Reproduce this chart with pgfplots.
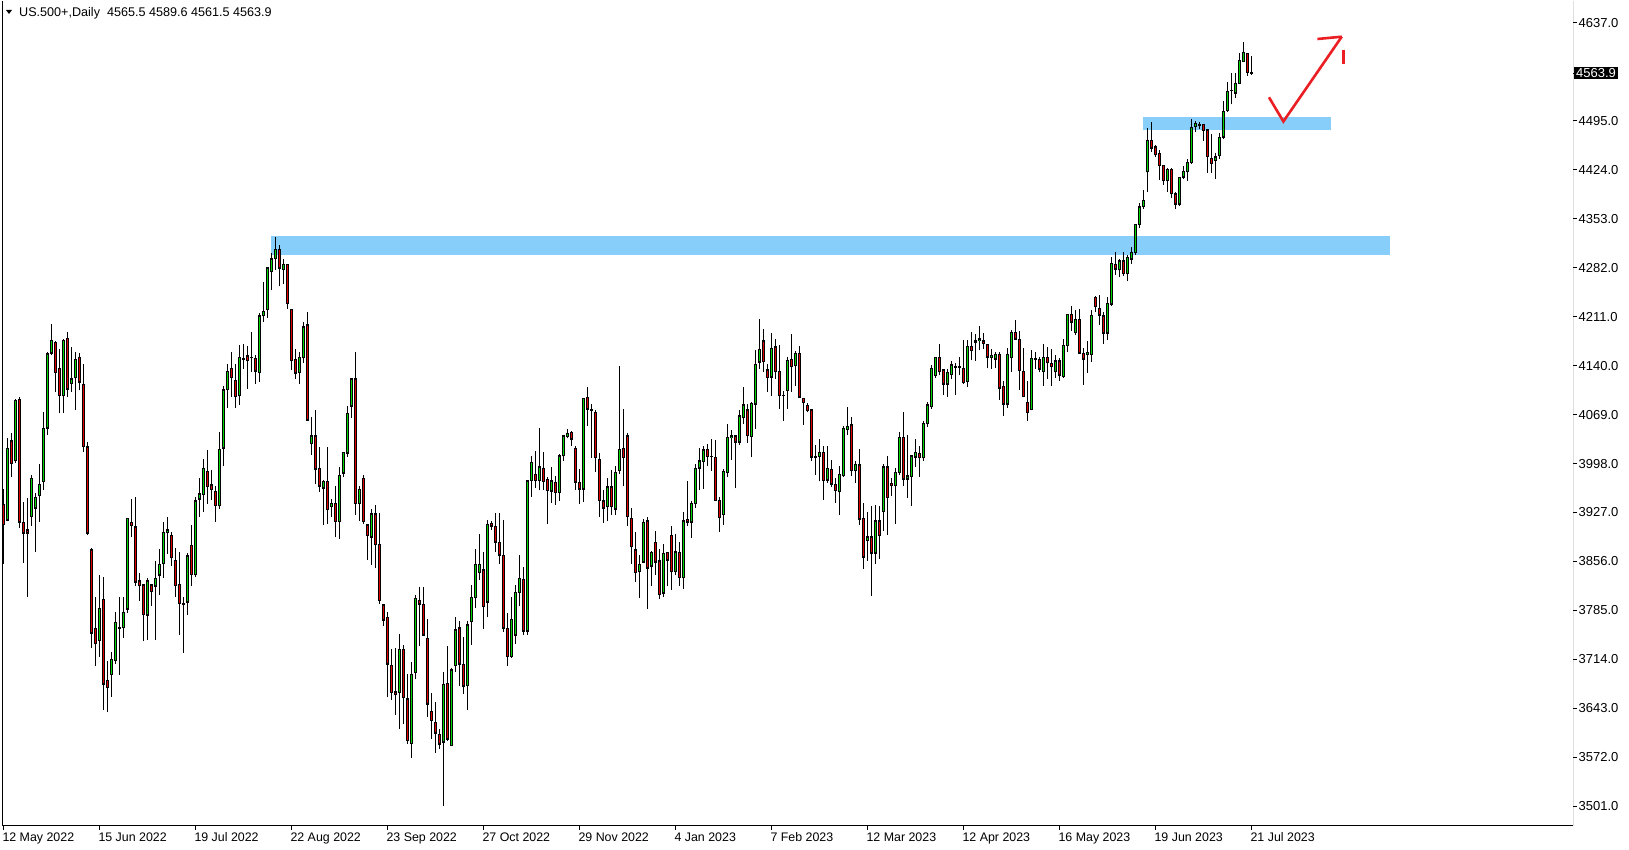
\documentclass[border=0pt]{standalone}
\usepackage{fontspec}
\setmainfont{Liberation Sans}
\usepackage{pgfplots}
\usepackage{pgfplotstable}
\pgfplotsset{compat=1.18}
\definecolor{bull}{RGB}{0,215,0}
\definecolor{bear}{RGB}{225,0,0}
\definecolor{zone}{RGB}{135,206,250}
\definecolor{arrowred}{RGB}{235,30,35}

\pgfplotstableread{
i o h l c
0 3939 3961 3853 3909
1 3916 4035 3914 4020
2 4031 4042 3978 3998
3 4002 4091 3999 4090
4 4091 4094 3904 3913
5 3913 3942 3854 3897
6 3902 3948 3805 3897
7 3921 3981 3907 3977
8 3933 3955 3870 3949
9 3951 3997 3913 3968
10 3972 4073 3959 4049
11 4049 4159 4040 4157
12 4158 4201 4156 4177
13 4174 4176 4101 4130
14 4136 4164 4071 4096
15 4096 4178 4071 4177
16 4180 4188 4095 4106
17 4114 4167 4102 4121
18 4122 4159 4075 4149
19 4152 4158 4104 4116
20 4113 4143 4014 4022
21 4022 4029 3894 3897
22 3873 3875 3731 3752
23 3759 3804 3704 3737
24 3741 3837 3718 3788
25 3801 3833 3641 3678
26 3684 3712 3637 3673
27 3692 3724 3660 3714
28 3712 3782 3708 3768
29 3759 3805 3692 3760
30 3760 3805 3745 3782
31 3787 3919 3781 3919
32 3913 3946 3891 3908
33 3906 3949 3820 3826
34 3828 3839 3799 3821
35 3822 3823 3740 3779
36 3778 3832 3742 3828
37 3822 3824 3792 3812
38 3820 3856 3742 3832
39 3836 3874 3807 3852
40 3853 3913 3832 3898
41 3898 3921 3867 3902
42 3894 3899 3850 3861
43 3858 3875 3804 3821
44 3823 3870 3749 3795
45 3795 3804 3723 3793
46 3797 3868 3779 3864
47 3879 3909 3820 3837
48 3837 3949 3833 3944
49 3946 3977 3921 3954
50 3953 4005 3928 3991
51 3987 4017 3940 3964
52 3967 3989 3945 3960
53 3958 3965 3913 3937
54 3937 4043 3932 4019
55 4020 4111 3994 4105
56 4105 4143 4079 4132
57 4136 4160 4095 4122
58 4119 4142 4079 4095
59 4096 4170 4083 4152
60 4149 4172 4135 4151
61 4154 4168 4106 4147
62 4152 4189 4131 4152
63 4151 4156 4114 4132
64 4130 4216 4116 4212
65 4212 4261 4203 4219
66 4221 4282 4209 4282
67 4276 4303 4249 4295
68 4295 4326 4279 4309
69 4309 4315 4255 4281
70 4279 4295 4258 4287
71 4287 4288 4222 4230
72 4222 4222 4133 4147
73 4149 4164 4121 4129
74 4130 4160 4113 4152
75 4151 4203 4144 4196
76 4199 4218 4061 4061
77 4027 4066 4010 4038
78 4038 4075 3968 3990
79 3991 4022 3957 3965
80 3962 3974 3909 3972
81 3972 4022 3911 3931
82 3935 3947 3920 3940
83 3940 3966 3891 3914
84 3914 3993 3889 3981
85 3984 4015 3978 4014
86 4013 4081 4008 4071
87 4081 4122 4064 4121
88 4121 4160 3923 3940
89 3940 3966 3915 3961
90 3977 3982 3910 3914
91 3909 3909 3858 3893
92 3891 3932 3851 3925
93 3925 3938 3846 3880
94 3881 3926 3795 3799
95 3793 3793 3762 3771
96 3775 3783 3659 3707
97 3705 3729 3655 3666
98 3667 3730 3634 3663
99 3666 3751 3613 3729
100 3729 3735 3621 3658
101 3657 3693 3592 3596
102 3592 3710 3571 3692
103 3695 3807 3685 3803
104 3800 3819 3733 3794
105 3794 3819 3748 3749
106 3745 3772 3631 3649
107 3639 3665 3598 3625
108 3623 3652 3578 3607
109 3605 3613 3584 3591
110 3594 3696 3501 3678
111 3679 3734 3596 3598
112 3589 3701 3589 3699
113 3705 3775 3695 3757
114 3760 3770 3675 3707
115 3707 3747 3664 3675
116 3676 3769 3640 3764
117 3769 3822 3735 3804
118 3803 3874 3788 3852
119 3840 3896 3829 3852
120 3844 3870 3758 3790
121 3797 3916 3775 3910
122 3911 3915 3902 3907
123 3907 3926 3870 3884
124 3884 3926 3852 3865
125 3865 3916 3754 3759
126 3759 3781 3704 3718
127 3718 3804 3716 3772
128 3749 3822 3737 3811
129 3811 3865 3791 3832
130 3830 3848 3749 3755
131 3755 3973 3750 3973
132 3973 4009 3950 4000
133 3982 4016 3963 3973
134 3973 4049 3959 3993
135 3991 4014 3960 3972
136 3975 3979 3910 3959
137 3958 3993 3941 3973
138 3971 3980 3938 3956
139 3956 4012 3943 4009
140 4009 4040 4001 4038
141 4037 4048 4035 4042
142 4043 4045 4024 4033
143 4020 4023 3959 3971
144 3971 3990 3940 3961
145 3961 4093 3942 4093
146 4094 4109 4053 4077
147 4077 4084 4006 4075
148 4072 4076 3986 4006
149 4004 4013 3920 3944
150 3944 3960 3912 3933
151 3935 3977 3914 3964
152 3964 3989 3923 3935
153 3932 3994 3923 3985
154 3988 4139 3983 4019
155 4020 4077 3965 4006
156 4038 4042 3907 3921
157 3919 3934 3853 3877
158 3873 3899 3826 3840
159 3841 3866 3803 3852
160 3855 3918 3854 3913
161 3915 3920 3787 3846
162 3849 3871 3820 3869
163 3884 3900 3836 3855
164 3857 3874 3802 3808
165 3810 3881 3805 3868
166 3869 3870 3820 3858
167 3894 3907 3814 3841
168 3841 3896 3836 3870
169 3869 3884 3821 3832
170 3832 3927 3816 3915
171 3917 3973 3908 3913
172 3913 3944 3890 3940
173 3940 3997 3933 3991
174 3991 4020 3960 4002
175 4001 4024 3961 4018
176 4019 4026 3995 4008
177 4008 4033 3987 4008
178 4007 4032 3943 3944
179 3945 3949 3899 3919
180 3924 3990 3909 3987
181 3985 4055 3979 4036
182 4035 4047 4003 4038
183 4038 4040 3962 4029
184 4029 4076 4025 4067
185 4064 4109 4056 4083
186 4076 4084 4028 4038
187 4037 4087 4007 4085
188 4084 4163 4048 4142
189 4145 4208 4135 4164
190 4176 4193 4131 4146
191 4134 4142 4102 4122
192 4123 4187 4096 4165
193 4167 4179 4121 4131
194 4132 4170 4077 4096
195 4097 4103 4059 4097
196 4104 4152 4077 4148
197 4149 4186 4102 4138
198 4140 4161 4111 4158
199 4158 4168 4093 4094
200 4093 4093 4054 4086
201 4082 4086 4072 4075
202 4076 4077 4001 4007
203 4008 4025 3981 4006
204 4008 4033 3972 4014
205 4014 4023 3945 3973
206 3974 4023 3970 3991
207 3990 4003 3964 3968
208 3968 3977 3941 3959
209 3957 3995 3924 3982
210 3980 4053 3979 4049
211 4047 4080 4039 4052
212 4054 4065 3980 3988
213 3988 4002 3970 3997
214 3996 4019 3909 3917
215 3919 3941 3845 3862
216 3886 3927 3857 3892
217 3892 3937 3806 3868
218 3868 3938 3852 3915
219 3915 3937 3860 3893
220 3928 3998 3900 3993
221 3993 4009 3895 3948
222 3969 3977 3951 3966
223 3966 3991 3910 3985
224 3985 4043 3981 4036
225 4036 4072 3965 3975
226 3975 4039 3948 3980
227 3979 4011 3936 4009
228 4007 4033 3993 4014
229 4013 4024 3979 4006
230 4006 4059 4002 4056
231 4056 4087 4051 4083
232 4080 4141 4077 4136
233 4125 4153 4122 4152
234 4152 4171 4126 4131
235 4134 4135 4097 4113
236 4113 4135 4095 4130
237 4127 4146 4120 4141
238 4137 4144 4097 4138
239 4138 4152 4126 4137
240 4136 4177 4114 4115
241 4117 4177 4109 4168
242 4168 4188 4148 4162
243 4174 4186 4147 4176
244 4176 4197 4162 4179
245 4176 4187 4164 4172
246 4171 4172 4136 4152
247 4152 4164 4135 4155
248 4149 4159 4137 4156
249 4156 4159 4090 4107
250 4110 4117 4067 4084
251 4084 4166 4079 4156
252 4151 4192 4130 4188
253 4188 4206 4177 4178
254 4178 4190 4104 4133
255 4132 4166 4094 4095
256 4087 4118 4060 4072
257 4076 4163 4075 4151
258 4149 4159 4135 4151
259 4149 4153 4130 4135
260 4131 4172 4111 4152
261 4152 4167 4120 4144
262 4143 4164 4110 4138
263 4131 4155 4122 4147
264 4147 4151 4118 4126
265 4124 4178 4122 4169
266 4169 4214 4159 4214
267 4214 4227 4190 4203
268 4188 4221 4185 4207
269 4207 4222 4157 4158
270 4158 4166 4112 4149
271 4156 4175 4129 4159
272 4156 4221 4145 4213
273 4239 4241 4218 4225
274 4223 4242 4199 4213
275 4212 4218 4172 4187
276 4187 4239 4177 4230
277 4229 4298 4227 4288
278 4287 4304 4272 4280
279 4279 4294 4268 4292
280 4292 4304 4270 4273
281 4273 4300 4262 4297
282 4294 4312 4288 4304
283 4304 4345 4300 4345
284 4344 4376 4339 4370
285 4370 4395 4367 4380
286 4421 4484 4392 4467
287 4467 4493 4450 4455
288 4457 4460 4442 4446
289 4448 4452 4409 4430
290 4430 4431 4402 4408
291 4408 4426 4392 4425
292 4425 4426 4383 4389
293 4389 4392 4367 4374
294 4374 4414 4372 4413
295 4413 4430 4410 4422
296 4421 4440 4408 4435
297 4434 4497 4432 4486
298 4486 4494 4478 4491
299 4490 4493 4483 4488
300 4490 4491 4466 4481
301 4482 4483 4419 4443
302 4441 4476 4419 4433
303 4437 4448 4410 4443
304 4444 4477 4440 4471
305 4471 4524 4468 4509
306 4510 4551 4508 4538
307 4539 4565 4519 4539
308 4535 4565 4528 4549
309 4549 4594 4548 4583
310 4581 4609 4580 4594
311 4593 4593 4560 4565
312 4565.5 4589.6 4561.5 4563.9
}\candles

\begin{document}
\begin{tikzpicture}[x=1pt,y=1pt]
\fill[white] (0,0) rectangle (1629,850);
\begin{axis}[
  at={(2pt,24pt)}, anchor=south west,
  scale only axis, width=1571pt, height=825pt,
  xmin=-0.325, xmax=392.4, ymin=3472.4, ymax=4668.7,
  axis line style={draw=none},
  clip=true,
  ytick={3501,3572,...,4495,4637},
  extra y ticks={4563.9}, extra y tick labels={},
  ytick pos=right, yticklabel pos=right,
  xtick={0,24,...,312},
  xtick pos=bottom,
  xticklabels={12 May 2022,15 Jun 2022,19 Jul 2022,22 Aug 2022,23 Sep 2022,27 Oct 2022,29 Nov 2022,4 Jan 2023,7 Feb 2023,12 Mar 2023,12 Apr 2023,16 May 2023,19 Jun 2023,21 Jul 2023},
  tick align=outside, major tick length=4pt,
  tick style={black, line width=1pt},
  /pgf/number format/assume math mode=true,
  /pgf/number format/fixed,
  /pgf/number format/fixed zerofill,
  /pgf/number format/precision=1,
  /pgf/number format/1000 sep={},
  yticklabel style={font=\fontsize{13}{15}\selectfont, anchor=west, inner sep=0pt, xshift=1.5pt},
  xticklabel style={font=\fontsize{12.4}{14}\selectfont, anchor=north west, inner sep=0pt, xshift=-1pt, yshift=-2.5pt},
]
% zones
\addplot[draw=none, fill=zone, forget plot] coordinates {(66.9,4301) (346.7,4301) (346.7,4328) (66.9,4328)} -- cycle;
\addplot[draw=none, fill=zone, forget plot] coordinates {(284.9,4481.6) (331.9,4481.6) (331.9,4500.1) (284.9,4500.1)} -- cycle;
% wicks
\addplot[draw=none, mark=none, forget plot,
  error bars/.cd, y dir=plus, y explicit, error mark=none,
  error bar style={draw=black, line width=1pt}]
  table[x=i, y=l, y error plus expr={\thisrow{h}-\thisrow{l}}] {\candles};
% body outlines
\addplot[draw=none, mark=none, forget plot,
  error bars/.cd, y dir=plus, y explicit, error mark=none,
  error bar style={draw=black, line width=3.2pt}]
  table[x=i, y expr={min(\thisrow{o},\thisrow{c})-0.7}, y error plus expr={abs(\thisrow{c}-\thisrow{o})+1.4}] {\candles};
% bull fill
\addplot[draw=none, mark=none, forget plot,
  error bars/.cd, y dir=plus, y explicit, error mark=none,
  error bar style={draw=bull, line width=1.6pt}]
  table[x=i, y expr={\thisrow{o}+1.3}, y error plus expr={max(\thisrow{c}-\thisrow{o}-2.6,0)}] {\candles};
% bear fill
\addplot[draw=none, mark=none, forget plot,
  error bars/.cd, y dir=plus, y explicit, error mark=none,
  error bar style={draw=bear, line width=1.6pt}]
  table[x=i, y expr={\thisrow{c}+1.3}, y error plus expr={max(\thisrow{o}-\thisrow{c}-2.6,0)}] {\candles};
% red arrow
\addplot[arrowred, line width=2.6pt, mark=none, forget plot] coordinates {(316.4,4529) (320,4494) (334.6,4617)};
\addplot[arrowred, line width=2.6pt, mark=none, forget plot] coordinates {(328.5,4613.6) (334.6,4616.9)};
\addplot[arrowred, line width=2.6pt, mark=none, forget plot] coordinates {(335.0,4598) (335.0,4577)};
% frame
\draw[black, line width=1pt] (rel axis cs:0,1) -- (rel axis cs:0,0) -- (rel axis cs:1,0) -- (rel axis cs:1,1);
\coordinate (tag) at (axis cs:392.4,4563.9);
\end{axis}
\node[fill=black, text=white, anchor=west, inner xsep=2pt, inner ysep=1.3pt, font=\fontsize{13}{15}\selectfont, xshift=1pt] at (tag) {4563.9};
\fill[black] (6,840) -- (12,840) -- (9,836) -- cycle;
\node[anchor=base west, inner sep=0pt, font=\fontsize{12.6}{15}\selectfont] at (19,833) {US.500+,Daily\ \ 4565.5 4589.6 4561.5 4563.9};
\end{tikzpicture}
\end{document}
